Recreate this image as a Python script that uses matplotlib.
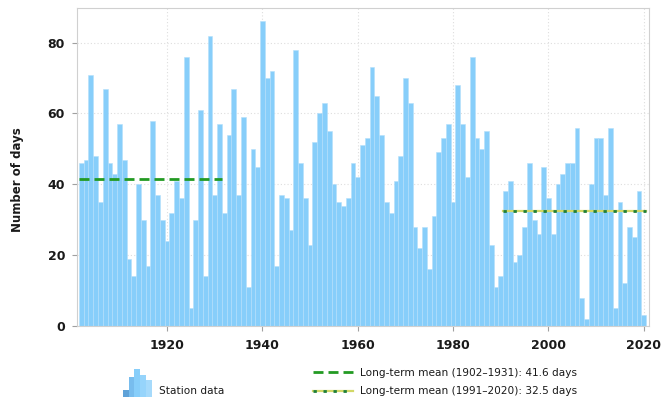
import matplotlib
matplotlib.use('Agg')
import matplotlib.pyplot as plt
from matplotlib.legend_handler import HandlerBase, HandlerTuple
from matplotlib.patches import Rectangle

# ---- data -------------------------------------------------------------
years = list(range(1902, 2021))
days = [46, 47, 71, 48, 35, 67, 46, 43, 57, 47,
        19, 14, 40, 30, 17, 58, 37, 30, 24, 32,
        41, 36, 76, 5, 30, 61, 14, 82, 37, 57,
        32, 54, 67, 37, 59, 11, 50, 45, 86, 70,
        72, 17, 37, 36, 27, 78, 46, 36, 23, 52,
        60, 63, 55, 40, 35, 34, 36, 46, 42, 51,
        53, 73, 65, 54, 35, 32, 41, 48, 70, 63,
        28, 22, 28, 16, 31, 49, 53, 57, 35, 68,
        57, 42, 76, 53, 50, 55, 23, 11, 14, 38,
        41, 18, 20, 28, 46, 30, 26, 45, 36, 26,
        40, 43, 46, 46, 56, 8, 2, 40, 53, 53,
        37, 56, 5, 35, 12, 28, 25, 38, 3]

early_period = (1902, 1931)
early_mean = 41.6
late_period = (1991, 2020)
late_mean = 32.5

x_ticks = [1920, 1940, 1960, 1980, 2000, 2020]
y_ticks = [0, 20, 40, 60, 80]

y_label = "Number of days"
bar_label = "Station data"
early_label = "Long-term mean (1902\u20131931): 41.6 days"
late_label = "Long-term mean (1991\u20132020): 32.5 days"

# ---- style ------------------------------------------------------------
plt.rcParams['font.family'] = ['DejaVu Sans']

BAR = '#87cefa'
GREEN = '#239a23'
DOT_GREEN = '#1f7f3a'
DOT_YELLOW = '#d2d866'
TXT = '#1a1a1a'

fig = plt.figure(figsize=(6.72, 4.01), dpi=100)
L, R, T, B = 77, 649, 8.3, 326
ax = fig.add_axes([L / 672, 1 - B / 401, (R - L) / 672, (B - T) / 401])

ax.bar(years, days, width=1.0, color=BAR, edgecolor='#b4dffb',
       linewidth=0.4, zorder=2)

early_line, = ax.plot([early_period[0] - 0.5, early_period[1] + 0.5],
                      [early_mean, early_mean], color=GREEN, lw=2.0,
                      linestyle=(0, (3.6, 1.8)), zorder=4,
                      dash_capstyle='butt')
late_under, = ax.plot([late_period[0] - 0.5, late_period[1] + 0.5],
                      [late_mean, late_mean], color=DOT_YELLOW, lw=1.6,
                      zorder=3)
late_line, = ax.plot([late_period[0] - 0.5, late_period[1] + 0.5],
                     [late_mean, late_mean], color=DOT_GREEN, lw=2.0,
                     linestyle=(0, (1.2, 2.4)), zorder=4,
                     dash_capstyle='butt')

ax.set_xlim(1901.1, 2021.1)
ax.set_ylim(0, 89.7)
ax.set_xticks(x_ticks)
ax.set_yticks(y_ticks)
ax.grid(True, color='#dedede', linestyle=(0, (1, 2)), linewidth=0.8, zorder=0)
ax.set_axisbelow(True)

for s in ax.spines.values():
    s.set_color('#d0d0d0')
    s.set_linewidth(0.8)

ax.tick_params(axis='both', colors='#a0a0a0', length=3.6, width=0.8,
               labelcolor=TXT, labelsize=9)
ax.tick_params(axis='x', pad=5.5)
ax.tick_params(axis='y', pad=5)
for lab in ax.get_xticklabels() + ax.get_yticklabels():
    lab.set_fontweight('bold')

ax.set_ylabel(y_label, fontsize=8.5, color=TXT, fontweight='bold')
ax.yaxis.set_label_coords(-0.093, 0.46)


# ---- legends ----------------------------------------------------------
class BarIcon:
    pass


class BarIconHandler(HandlerBase):
    def create_artists(self, legend, orig_handle, xdescent, ydescent,
                       width, height, fontsize, trans):
        rel = [0.25, 0.72, 1.0, 0.78, 0.62]
        cols = ['#5fa2d8', '#78bdee', '#87cefa', '#96d4fb', '#a6dafb']
        n = len(rel)
        w = width / n
        center = -ydescent + height / 2
        base = center - 0.6 * fontsize
        top = 2.6 * fontsize
        arts = []
        for i, (r, c) in enumerate(zip(rel, cols)):
            arts.append(Rectangle((-xdescent + i * w, base), w, r * top,
                                  facecolor=c, edgecolor='none',
                                  transform=trans))
        return arts


leg1 = fig.legend([BarIcon()], [bar_label],
                  handler_map={BarIcon: BarIconHandler()},
                  loc='center left', bbox_to_anchor=(122.7 / 672, 1 - 391 / 401),
                  frameon=False, borderpad=0, borderaxespad=0,
                  handlelength=2.75, handletextpad=0.65,
                  prop={'size': 7.6})
for t in leg1.get_texts():
    t.set_color(TXT)

leg2 = fig.legend([early_line, (late_under, late_line)],
                  [early_label, late_label],
                  handler_map={tuple: HandlerTuple(ndivide=1, pad=0)},
                  loc='center left', bbox_to_anchor=(313 / 672, 1 - 382 / 401),
                  frameon=False, borderpad=0, borderaxespad=0,
                  handlelength=3.8, handletextpad=0.65, labelspacing=0.8,
                  prop={'size': 7.6})
for t in leg2.get_texts():
    t.set_color(TXT)

fig.savefig('out.png', dpi=100)
